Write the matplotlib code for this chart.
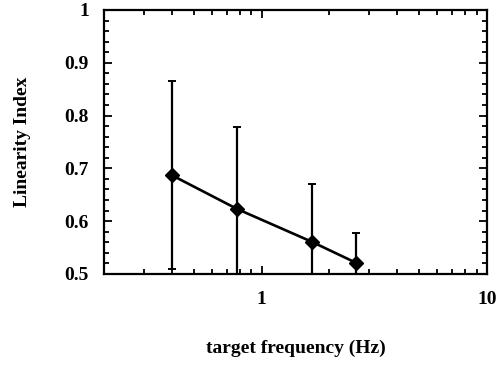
import matplotlib
matplotlib.use("Agg")
import matplotlib.pyplot as plt
from matplotlib.ticker import FixedLocator, MultipleLocator, LogLocator, NullFormatter

# data
freq = [0.4, 0.78, 1.67, 2.63]
lin_index = [0.687, 0.623, 0.561, 0.521]
err = [0.178, 0.155, 0.109, 0.057]

plt.rcParams['font.family'] = ['Liberation Serif', 'DejaVu Serif']
plt.rcParams['font.weight'] = 'bold'

fig = plt.figure(figsize=(5, 3.69), dpi=100)
ax = fig.add_axes([0.208, 0.2575, 0.766, 0.7155])

ax.errorbar(freq, lin_index, yerr=err, color='black', lw=1.9, elinewidth=1.6,
            capsize=3, capthick=1.4, marker='D', markersize=7.5, zorder=3)

ax.set_xscale('log')
ax.set_xlim(0.2, 10)
ax.set_ylim(0.5, 1.0)

ax.xaxis.set_major_locator(FixedLocator([1, 10]))
ax.set_xticklabels(['1', '10'])
ax.xaxis.set_minor_locator(LogLocator(base=10, subs=range(2, 10)))
ax.xaxis.set_minor_formatter(NullFormatter())
ax.set_yticks([0.5, 0.6, 0.7, 0.8, 0.9, 1.0])
ax.set_yticklabels(['0.5', '0.6', '0.7', '0.8', '0.9', '1'])
ax.yaxis.set_minor_locator(MultipleLocator(0.02))

ax.tick_params(which='both', direction='in', top=True, right=True, width=1.3,
               labelsize=14)
ax.tick_params(which='major', length=6)
ax.tick_params(which='minor', length=3.5)
ax.tick_params(axis='x', which='major', pad=12)
ax.tick_params(axis='y', which='major', pad=11)
for s in ax.spines.values():
    s.set_linewidth(1.6)

ax.set_xlabel('target frequency (Hz)', fontsize=14, fontweight='bold')
ax.set_ylabel('Linearity Index', fontsize=14, fontweight='bold')
ax.xaxis.set_label_coords(0.5, -0.25)
ax.yaxis.set_label_coords(-0.19, 0.5)

fig.savefig('out.png', dpi=100)
